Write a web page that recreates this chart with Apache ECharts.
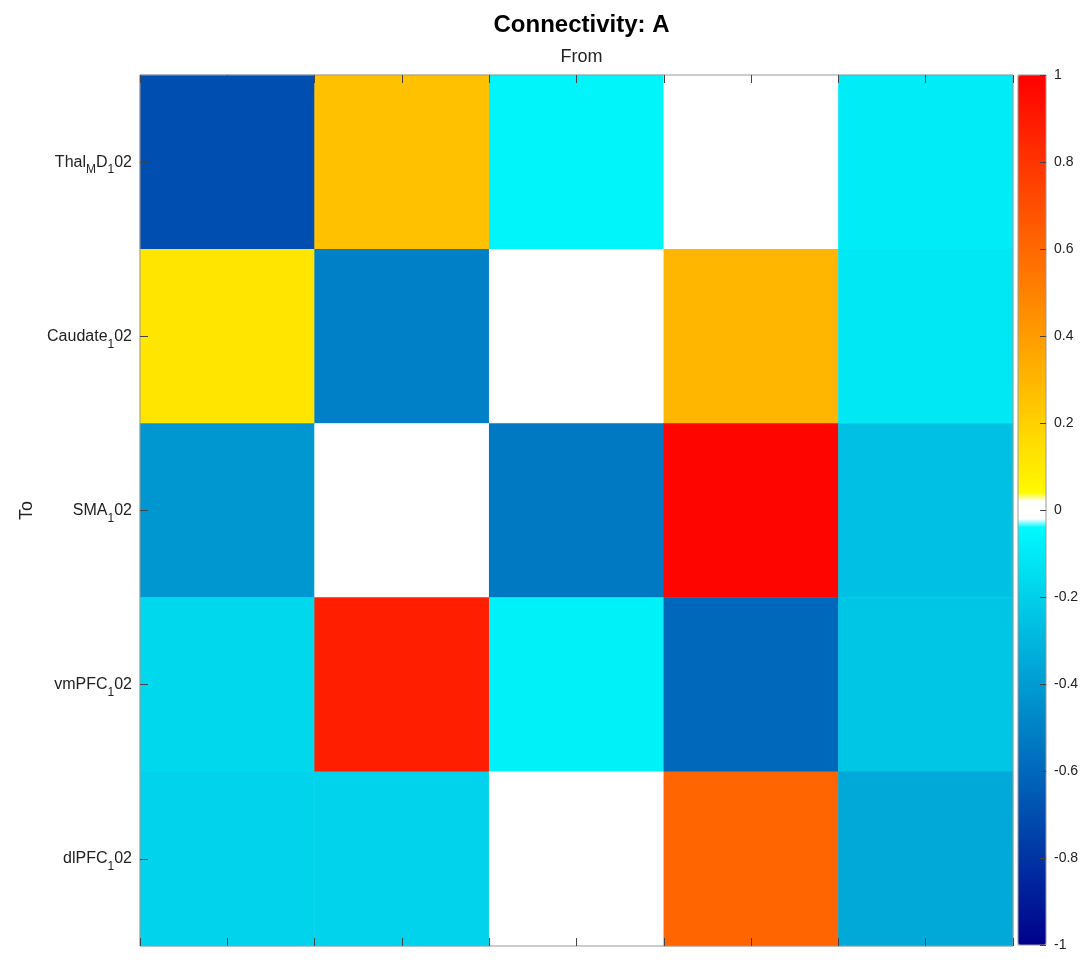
<!DOCTYPE html>
<html>
<head>
<meta charset="utf-8">
<script src="https://cdn.jsdelivr.net/npm/echarts@6/dist/echarts.min.js"></script>
<style>
  html, body { margin: 0; padding: 0; background: #fff; }
  #chart { width: 1089px; height: 960px; }
</style>
</head>
<body>
<div id="chart"></div>
<script>
var fromNames = ['1', '2', '3', '4', '5'];
var toLabels = [
    'Thal{sub|M}D{sub|1}02',
    'Caudate{sub|1}02',
    'SMA{sub|1}02',
    'vmPFC{sub|1}02',
    'dlPFC{sub|1}02'
];
// rows = To, columns = From
var rowThal = [-0.70, 0.26, -0.06, 0, -0.09];
var rowCaudate = [0.12, -0.51, 0, 0.30, -0.11];
var rowSMA = [-0.42, 0, -0.54, 0.98, -0.26];
var rowVmPFC = [-0.17, 0.88, -0.07, -0.60, -0.24];
var rowDlPFC = [-0.19, -0.19, 0, 0.61, -0.35];
var cbTicks = [-1, -0.8, -0.6, -0.4, -0.2, 0, 0.2, 0.4, 0.6, 0.8, 1];

var rows = [rowThal, rowCaudate, rowSMA, rowVmPFC, rowDlPFC];
var cells = [];
rows.forEach(function (row, r) {
    row.forEach(function (v, c) {
        cells.push([c, r, v]);
    });
});

// colormap: navy -> cyan for negatives, white near 0, yellow -> red for positives
function cmap(v) {
    var a = Math.abs(v);
    if (a < 0.021) return 'rgb(255,255,255)';
    var t = Math.min(1, (a - 0.02) / 0.98);
    if (t < 0) t = 0;
    if (v < 0) {
        var g = Math.round(255 * (1 - t));
        var b = Math.round(255 - 115 * t);
        return 'rgb(0,' + g + ',' + b + ')';
    }
    return 'rgb(255,' + Math.round(255 * (1 - t)) + ',0)';
}
var colors = [];
for (var i = 0; i <= 400; i++) {
    colors.push(cmap(-1 + i * 0.005));
}

var chart = echarts.init(document.getElementById('chart'));
var plotLeft = 140, plotTop = 75, plotW = 873, plotH = 871;
var tickStyle = { color: '#444', width: 1 };

var option = {
    animation: false,
    backgroundColor: '#fff',
    textStyle: { fontFamily: 'Liberation Sans, Arial, sans-serif' },
    title: [
        {
            text: 'Connectivity: A',
            left: plotLeft + plotW / 2,
            top: 8,
            textAlign: 'center',
            textStyle: { fontSize: 24, fontWeight: 'bold', color: '#000' }
        },
        {
            text: 'From',
            left: plotLeft + plotW / 2,
            top: 43,
            textAlign: 'center',
            textStyle: { fontSize: 18, fontWeight: 'normal', color: '#222' }
        }
    ],
    grid: [
        {
            left: plotLeft, top: plotTop, width: plotW, height: plotH,
            show: true, borderColor: '#999', borderWidth: 1, backgroundColor: 'transparent', z: 10
        },
        {
            left: 1018, top: 75, width: 28, height: 870,
            show: true, borderColor: '#999', borderWidth: 1, backgroundColor: 'transparent', z: 10
        }
    ],
    xAxis: [
        {
            type: 'category', gridIndex: 0, data: fromNames,
            axisLine: { show: false }, axisTick: { show: false }, axisLabel: { show: false },
            splitLine: { show: false }
        },
        {
            type: 'value', gridIndex: 0, min: 0.5, max: 5.5, interval: 0.5, position: 'bottom', z: 10,
            axisLine: { show: false, onZero: false }, axisLabel: { show: false }, splitLine: { show: false },
            axisTick: { show: true, inside: true, length: 8, lineStyle: tickStyle }
        },
        {
            type: 'value', gridIndex: 0, min: 0.5, max: 5.5, interval: 0.5, position: 'top', z: 10,
            axisLine: { show: false, onZero: false }, axisLabel: { show: false }, splitLine: { show: false },
            axisTick: { show: true, inside: true, length: 8, lineStyle: tickStyle }
        },
        {
            type: 'value', gridIndex: 1, show: false, min: 0, max: 1
        }
    ],
    yAxis: [
        {
            type: 'category', gridIndex: 0, data: toLabels, inverse: true, z: 10,
            name: 'To', nameLocation: 'middle', nameGap: 104, nameRotate: 90,
            nameTextStyle: { fontSize: 18, color: '#222' },
            axisLine: { show: false, onZero: false },
            axisTick: { show: true, inside: true, alignWithLabel: true, length: 8, lineStyle: tickStyle },
            axisLabel: {
                margin: 8,
                fontSize: 16,
                color: '#222',
                rich: {
                    sub: { fontSize: 12, padding: [16, 0, 0, 0], color: '#222' }
                }
            },
            splitLine: { show: false }
        },
        {
            type: 'value', gridIndex: 1, min: -1, max: 1, interval: 0.2, position: 'right', z: 10,
            axisLine: { show: false, onZero: false }, splitLine: { show: false },
            axisTick: { show: true, inside: true, length: 6, lineStyle: tickStyle },
            axisLabel: {
                margin: 8, fontSize: 14, color: '#222',
                formatter: function (v) {
                    return String(Math.round(v * 10) / 10);
                }
            }
        }
    ],
    visualMap: {
        type: 'continuous',
        min: -1,
        max: 1,
        seriesIndex: 0,
        calculable: false,
        hoverLink: false,
        orient: 'vertical',
        left: 1018,
        top: 75,
        padding: 0,
        z: 1,
        itemWidth: 28,
        itemHeight: 870,
        text: null,
        showLabel: false,
        inRange: { color: colors }
    },
    series: [
        {
            type: 'heatmap',
            xAxisIndex: 0,
            yAxisIndex: 0,
            data: cells,
            itemStyle: { borderWidth: 0 },
            emphasis: { disabled: true }
        }
    ]
};
chart.setOption(option);
</script>
</body>
</html>
